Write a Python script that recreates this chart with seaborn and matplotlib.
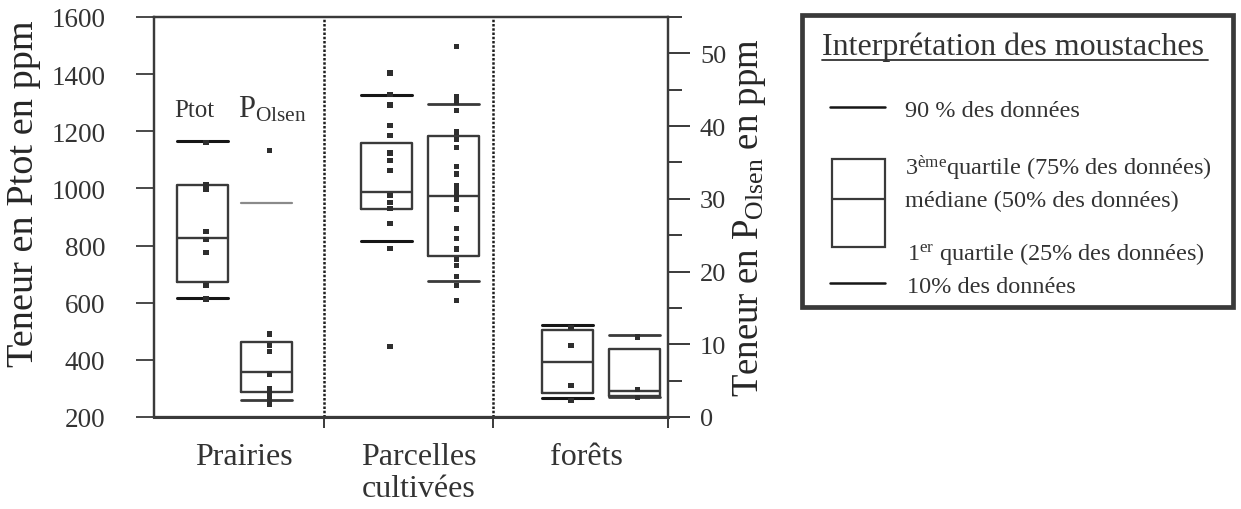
import numpy as np
import pandas as pd
import matplotlib
matplotlib.use("Agg")
import matplotlib.pyplot as plt
from matplotlib.lines import Line2D
from matplotlib.patches import Rectangle
import seaborn as sns

# ---------------------------------------------------------------- data
categories = ["Prairies", "Parcelles\ncultivées", "forêts"]

# Ptot (ppm) : 10 %, 1er quartile, médiane, 3ème quartile, 90 %
ptot_p10 = [617, 817, 265]
ptot_q1 = [671, 928, 284]
ptot_med = [825, 989, 391]
ptot_q3 = [1013, 1158, 506]
ptot_p90 = [1167, 1328, 523]

# P Olsen (ppm) : 10 %, 1er quartile, médiane, 3ème quartile, 90 %
polsen_p10 = [2.4, 18.7, 2.8]
polsen_q1 = [3.5, 22.2, 2.9]
polsen_med = [6.2, 30.4, 3.6]
polsen_q3 = [10.3, 38.6, 9.3]
polsen_p90 = [29.4, 43.0, 11.3]

# individual samples
ptot_prairies = [1160, 1015, 998, 850, 821, 776, 660, 613]
ptot_cultivees = [1404, 1330, 1292, 1220, 1185, 1124, 1097, 1062,
                  975, 951, 930, 876, 790, 447]
ptot_forets = [514, 450, 310, 257]

polsen_prairies = [36.6, 11.4, 9.8, 9.0, 5.9, 3.9, 3.3, 2.5, 1.8]
polsen_cultivees = [50.9, 44.0, 43.3, 42.1, 39.2, 38.2, 37.1, 34.4, 33.4,
                    31.8, 31.1, 30.4, 29.9, 28.6, 25.9, 24.5, 23.1, 21.7,
                    20.8, 19.3, 18.1, 16.0]
polsen_forets = [11.0, 3.8, 2.7]

ptot_ticks = [200, 400, 600, 800, 1000, 1200, 1400, 1600]
polsen_ticks = [0, 10, 20, 30, 40, 50]

# ---------------------------------------------------------------- layout
PTOT_X = [0.286, 1.371, 2.438]
POLSEN_X = [0.663, 1.763, 2.830]
LABEL_X = [0.53, 1.56, 2.55]
BOX_W = 0.30
DOT_DX = 0.02
XMAX = 3.03

INK = "#3a3a3a"
TEXT = "#333333"

sns.set_theme(style="ticks")
plt.rcParams["font.family"] = ["Liberation Serif", "DejaVu Serif"]
plt.rcParams["mathtext.fontset"] = "custom"
plt.rcParams["mathtext.rm"] = "Liberation Serif"
plt.rcParams["mathtext.it"] = "Liberation Serif:italic"
plt.rcParams["mathtext.bf"] = "Liberation Serif:bold"
plt.rcParams["text.color"] = TEXT
plt.rcParams["xtick.color"] = INK
plt.rcParams["ytick.color"] = INK
plt.rcParams["xtick.labelcolor"] = TEXT
plt.rcParams["ytick.labelcolor"] = TEXT

W, H = 1241, 510
fig = plt.figure(figsize=(W / 100, H / 100), dpi=100)
ax = fig.add_axes([154 / W, 1 - 418 / H, (668 - 154) / W, 400 / H])
ax2 = ax.twinx()


def fx(px):
    return px / W


def fy(py):
    return 1 - py / H


def box_stats(lo, q1, med, q3, hi):
    return [dict(whislo=a, q1=b, med=c, q3=d, whishi=e, fliers=[])
            for a, b, c, d, e in zip(lo, q1, med, q3, hi)]


common = dict(widths=BOX_W, capwidths=BOX_W, showfliers=False,
              manage_ticks=False,
              boxprops=dict(color=INK, linewidth=1.7),
              medianprops=dict(color=INK, linewidth=1.7),
              whiskerprops=dict(linewidth=0))

ax.bxp(box_stats(ptot_p10, ptot_q1, ptot_med, ptot_q3, ptot_p90),
       positions=PTOT_X, capprops=dict(color="#161616", linewidth=2.2),
       **common)
res2 = ax2.bxp(box_stats(polsen_p10, polsen_q1, polsen_med, polsen_q3, polsen_p90),
               positions=POLSEN_X, capprops=dict(color=INK, linewidth=2.0),
               **common)
# the upper P Olsen whisker of the grassland group is printed fainter
res2["caps"][1].set_color("#8a8a8a")
res2["caps"][1].set_linewidth(1.6)

# sample points
ptot_groups = [ptot_prairies, ptot_cultivees, ptot_forets]
polsen_groups = [polsen_prairies, polsen_cultivees, polsen_forets]
df_ptot = pd.DataFrame({
    "pos": np.concatenate([[PTOT_X[i] + DOT_DX] * len(g) for i, g in enumerate(ptot_groups)]),
    "val": np.concatenate(ptot_groups),
})
df_polsen = pd.DataFrame({
    "pos": np.concatenate([[POLSEN_X[i] + DOT_DX] * len(g) for i, g in enumerate(polsen_groups)]),
    "val": np.concatenate(polsen_groups),
})
sns.scatterplot(data=df_ptot, x="pos", y="val", ax=ax, marker="s", s=14,
                color="#2e2e2e", edgecolor="none", legend=False, zorder=4)
sns.scatterplot(data=df_polsen, x="pos", y="val", ax=ax2, marker="s", s=14,
                color="#2e2e2e", edgecolor="none", legend=False, zorder=4)

# group separators
for xb in (1, 2):
    ax.axvline(xb, color="#1e1e1e", linewidth=1.8, linestyle=(0, (1, 0.7)), zorder=1)

# axes limits and ticks
ax.set_xlim(0, XMAX)
ax.set_ylim(200, 1600)
ax2.set_ylim(0, 55)

ax.set_yticks(ptot_ticks)
ax.set_yticklabels([str(t) for t in ptot_ticks])
ax.tick_params(axis="y", which="major", direction="out", length=13, width=1.3,
               pad=22, labelsize=19.5)

ax2.set_yticks(polsen_ticks)
ax2.set_yticklabels([str(t) for t in polsen_ticks])
ax2.set_yticks([5, 15, 25, 35, 45, 55], minor=True)
ax2.tick_params(axis="y", which="major", direction="out", length=16, width=1.4,
                pad=7, labelsize=19)
ax2.tick_params(axis="y", which="minor", direction="out", length=10, width=1.4)

ax.set_xticks([1, 2, XMAX])
ax.set_xticklabels([])
ax.set_xticks(LABEL_X, minor=True)
ax.set_xticklabels(categories, minor=True, fontsize=23, linespacing=1.15)
ax.tick_params(axis="x", which="major", direction="out", length=8, width=1.4)
ax.tick_params(axis="x", which="minor", length=0, pad=18)

ax.set_xlabel("")
ax2.set_xlabel("")
ax.set_ylabel("Teneur en Ptot en ppm", fontsize=27.5)
ax2.set_ylabel(r"Teneur en P$_{\mathrm{Olsen}}$ en ppm", fontsize=26.5)
ax.yaxis.set_label_coords((41 - 154) / 514, 0.56)
ax2.yaxis.set_label_coords((731 - 154) / 514, 0.50)

for a in (ax, ax2):
    for side in ("left", "right", "top", "bottom"):
        a.spines[side].set_color(INK)
        a.spines[side].set_linewidth(1.6)
ax.spines["bottom"].set_linewidth(2.2)

# series captions inside the grassland panel
ax.text(0.236, 1253, "Ptot", ha="center", va="baseline", fontsize=18, color=TEXT)
ax.text(0.495, 1253, r"P$_{\mathrm{Olsen}}$", ha="left", va="baseline",
        fontsize=22, color=TEXT)

# ---------------------------------------------------------------- key
fig.patches.append(Rectangle((fx(802), fy(308)), fx(1233) - fx(802), fy(16) - fy(308),
                             transform=fig.transFigure, fill=False,
                             edgecolor=INK, linewidth=3.4))
fig.text(fx(822), fy(55), "Interprétation des moustaches", fontsize=23,
         ha="left", va="baseline", color=TEXT)
fig.add_artist(Line2D([fx(822), fx(1208)], [fy(61), fy(61)], color=TEXT,
                      linewidth=1.3, transform=fig.transFigure))

fig.add_artist(Line2D([fx(830), fx(885)], [fy(108), fy(108)], color="#161616",
                      linewidth=1.8, transform=fig.transFigure))
fig.add_artist(Line2D([fx(830), fx(885)], [fy(284), fy(284)], color="#161616",
                      linewidth=1.8, transform=fig.transFigure))
fig.patches.append(Rectangle((fx(832), fy(248)), fx(885) - fx(832), fy(160) - fy(248),
                             transform=fig.transFigure, fill=False,
                             edgecolor=INK, linewidth=1.6))
fig.add_artist(Line2D([fx(832), fx(885)], [fy(200), fy(200)], color=INK,
                      linewidth=1.6, transform=fig.transFigure))

key_size = 17.5
fig.text(fx(905), fy(117), "90 % des données", fontsize=key_size, va="baseline")
fig.text(fx(905), fy(175), r"3$^{\mathrm{ème}}$quartile (75% des données)",
         fontsize=key_size, va="baseline")
fig.text(fx(905), fy(207), "médiane (50% des données)", fontsize=key_size, va="baseline")
fig.text(fx(907), fy(260), r"1$^{\mathrm{er}}$ quartile (25% des données)",
         fontsize=key_size, va="baseline")
fig.text(fx(907), fy(293), "10% des données", fontsize=key_size, va="baseline")

fig.savefig("out.png", dpi=100)
